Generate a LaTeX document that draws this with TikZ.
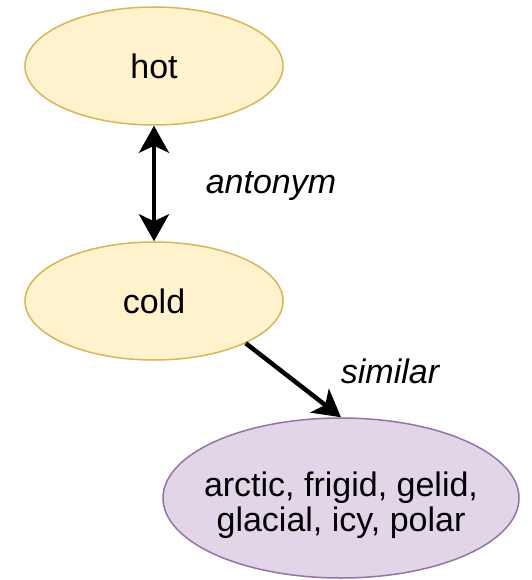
\documentclass[tikz,border=0pt]{standalone}
\usepackage{fontspec}
\setmainfont{Liberation Sans}
\usetikzlibrary{arrows.meta,shapes.geometric}
\definecolor{yfill}{HTML}{FFF2CC}
\definecolor{ydraw}{HTML}{D6B656}
\definecolor{pfill}{HTML}{E1D5E7}
\definecolor{pdraw}{HTML}{9673A6}
\tikzset{
  yell/.style={ellipse, fill=yfill, draw=ydraw, line width=1.5pt, inner sep=0pt},
  purp/.style={ellipse, fill=pfill, draw=pdraw, line width=1.5pt, inner sep=0pt},
  tip/.tip={Stealth[length=27pt,width=30pt,inset=7pt]},
  conn/.style={line width=4.5pt, -tip},
  lbl/.style={font=\fontsize{34}{40}\selectfont\itshape},
  txt/.style={font=\fontsize{34}{35}\selectfont, align=center}
}
\begin{document}
\begin{tikzpicture}[x=1pt,y=-1pt]
\useasboundingbox (0,0) rectangle (531,580);
\node[yell, minimum width=258pt, minimum height=118pt, txt] (hot) at (154,66) {hot};
\node[yell, minimum width=258pt, minimum height=118pt, txt] (cold) at (154,301) {cold};
\node[purp, minimum width=356pt, minimum height=160pt] (syn) at (341,498) {};
\node[txt] (syntext) at (341,505) {arctic, frigid, gelid,\\glacial, icy, polar};
\draw[conn, tip-tip] (hot) -- (cold);
\draw[conn] (cold.south east) -- (syn.north);
\node[lbl] (ant) at (271,186) {antonym};
\node[lbl] (sim) at (390,371) {similar};
\end{tikzpicture}
\end{document}
